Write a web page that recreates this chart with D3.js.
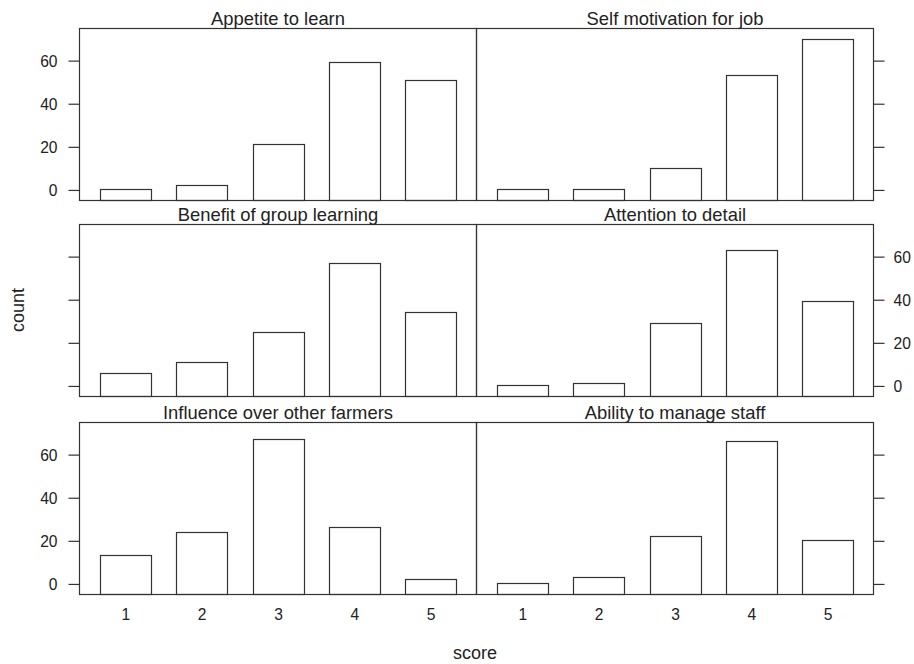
<!DOCTYPE html>
<html>
<head>
<meta charset="utf-8">
<script src="https://cdn.jsdelivr.net/npm/d3@7"></script>
<style>
  html, body { margin: 0; padding: 0; background: #fff; }
  svg { display: block; }
  text { font-family: "Liberation Sans", Arial, sans-serif; fill: #222; }
</style>
</head>
<body>
<svg id="chart" width="914" height="664"></svg>
<script>
// Score levels on the x axis
const scores = ["1", "2", "3", "4", "5"];

// Panel titles, in reading order (left-to-right, top-to-bottom)
const titles = [
  "Appetite to learn", "Self motivation for job",
  "Benefit of group learning", "Attention to detail",
  "Influence over other farmers", "Ability to manage staff"
];

// Counts per score for each panel
const appetite   = [0, 2, 21, 59, 51];
const motivation = [0, 0, 10, 53, 70];
const groupLearn = [6, 11, 25, 57, 34];
const attention  = [0, 1, 29, 63, 39];
const influence  = [13, 24, 67, 26, 2];
const manage     = [0, 3, 22, 66, 20];

const countTicks = [0, 20, 40, 60];

const seriesList = [appetite, motivation, groupLearn, attention, influence, manage];

// Layout
const svg = d3.select("#chart");
const colX = [79.5, 476.5];
const panelW = 397;
const rowY = [28.5, 224.5, 422.5];
const panelH = 172;
const lineCol = "#333";

// Shared count domain: [0, max] padded by 7% on both sides
const maxCount = d3.max(seriesList, s => d3.max(s));
const pad = 0.07 * maxCount;
const yDomain = [-pad, maxCount + pad];

titles.forEach((title, i) => {
  const col = i % 2, row = Math.floor(i / 2);
  const x0 = colX[col], y0 = rowY[row];
  const values = seriesList[i];

  const x = d3.scaleLinear().domain([0.4, scores.length + 0.6]).range([x0, x0 + panelW]);
  const y = d3.scaleLinear().domain(yDomain).range([y0 + panelH, y0]);
  const barW = (x(2) - x(1)) * 2 / 3;
  const base = y0 + panelH;
  const topOf = d => Math.round(y(d) - 0.5) + 0.5;

  const g = svg.append("g");

  // Bars rise from the bottom of the panel
  g.selectAll("rect.bar")
    .data(values)
    .join("rect")
    .attr("class", "bar")
    .attr("x", (d, k) => Math.round(x(k + 1) - barW / 2) + 0.5)
    .attr("width", Math.round(barW))
    .attr("y", d => topOf(d))
    .attr("height", d => base - topOf(d))
    .attr("fill", "#fff")
    .attr("stroke", lineCol)
    .attr("stroke-width", 1.2);

  // Panel frame
  g.append("rect")
    .attr("x", x0).attr("y", y0)
    .attr("width", panelW).attr("height", panelH)
    .attr("fill", "none")
    .attr("stroke", lineCol)
    .attr("stroke-width", 1.2);

  // Panel title
  g.append("text")
    .attr("x", x0 + panelW / 2)
    .attr("y", y0 - 3.5)
    .attr("text-anchor", "middle")
    .style("font-size", "18.4px")
    .text(title);

  // Count axis: ticks on the outer side, labels alternating between rows
  if (col === 0) {
    const ax = d3.axisLeft(y).tickValues(countTicks).tickSize(11).tickPadding(11)
      .tickFormat(row === 1 ? "" : d3.format("d"));
    const a = g.append("g").attr("transform", `translate(${x0},0)`).call(ax);
    styleAxis(a);
  } else {
    const ax = d3.axisRight(y).tickValues(countTicks).tickSize(11).tickPadding(9)
      .tickFormat(row === 1 ? d3.format("d") : "");
    const a = g.append("g").attr("transform", `translate(${x0 + panelW},0)`).call(ax);
    styleAxis(a);
  }

  // Score labels under the bottom row
  if (row === 2) {
    const xa = d3.axisBottom(x).tickValues(scores.map(Number)).tickSize(0).tickPadding(14)
      .tickFormat(d3.format("d"));
    const a = g.append("g").attr("transform", `translate(0,${y0 + panelH})`).call(xa);
    a.select(".domain").remove();
    a.selectAll("text").style("font-size", "15.6px").attr("fill", "#222");
  }
});

function styleAxis(a) {
  a.select(".domain").remove();
  a.selectAll("line").attr("stroke", lineCol).attr("stroke-width", 1.2);
  a.selectAll("text").style("font-size", "15.6px").attr("fill", "#222").attr("dy", "0.36em");
}

// Axis titles
svg.append("text")
  .attr("transform", "translate(23.5,310) rotate(-90)")
  .attr("text-anchor", "middle")
  .style("font-size", "18px")
  .text("count");

svg.append("text")
  .attr("x", 475)
  .attr("y", 659)
  .attr("text-anchor", "middle")
  .style("font-size", "18px")
  .text("score");
</script>
</body>
</html>
